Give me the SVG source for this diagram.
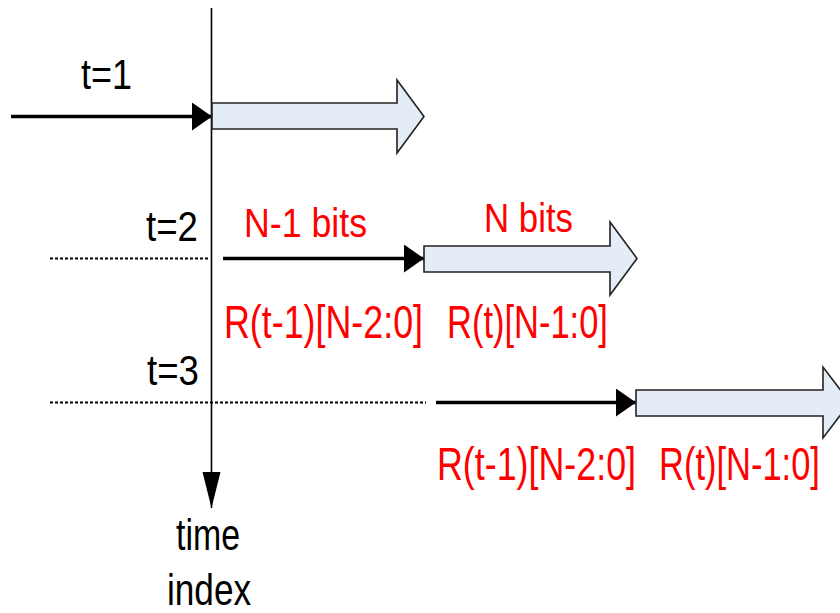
<svg xmlns="http://www.w3.org/2000/svg" width="840" height="613" viewBox="0 0 840 613">
  <style>
    .lbl { font-family: "Liberation Sans", Arial, sans-serif; fill: #000000; }
    .red { font-family: "Liberation Sans", Arial, sans-serif; fill: #ff0000; }
    .wire { stroke: #000000; stroke-width: 3.5; fill: none; }
    .dash { stroke: #000000; stroke-width: 2; stroke-dasharray: 3 2; fill: none; }
    .block { fill: #e4ecf7; stroke: #222222; stroke-width: 1.6; stroke-linejoin: miter; }
  </style>
  <defs>
    <marker id="head" markerUnits="userSpaceOnUse" markerWidth="22" markerHeight="28" refX="20" refY="14" orient="auto">
      <path d="M0,0 L20,14 L0,28 Z" fill="#000000"/>
    </marker>
    <marker id="axisHead" markerUnits="userSpaceOnUse" markerWidth="38" markerHeight="20" refX="36" refY="9" orient="auto">
      <path d="M0,0 L36,9 L0,18 Z" fill="#000000"/>
    </marker>
  </defs>

  <!-- time axis -->
  <g id="time-axis">
    <line x1="211.5" y1="8" x2="211.5" y2="508" stroke="#000" stroke-width="1.6" marker-end="url(#axisHead)"/>
    <text class="lbl" transform="translate(208,550) scale(0.77,1)" font-size="44" text-anchor="middle">time</text>
    <text class="lbl" transform="translate(209,605) scale(0.8,1)" font-size="44" text-anchor="middle">index</text>
  </g>

  <!-- connectors -->
  <g id="connectors">
    <line class="wire" x1="11" y1="116.5" x2="212" y2="116.5" marker-end="url(#head)"/>
    <line class="dash" x1="50" y1="258.5" x2="210" y2="258.5"/>
    <line class="wire" x1="223" y1="258.5" x2="424" y2="258.5" marker-end="url(#head)"/>
    <line class="dash" x1="50" y1="402.5" x2="426" y2="402.5"/>
    <line class="wire" x1="436" y1="402.5" x2="636" y2="402.5" marker-end="url(#head)"/>
  </g>

  <!-- t = 1 -->
  <g id="step1">
    <text class="lbl" transform="translate(81,89) scale(0.836,1)" font-size="43">t=1</text>
    <path class="block" d="M212,103 H397 V80 L424,116.5 L397,153 V129 H212 Z"/>
  </g>

  <!-- t = 2 -->
  <g id="step2">
    <text class="lbl" transform="translate(146,241) scale(0.873,1)" font-size="42">t=2</text>
    <text class="red" transform="translate(244,237) scale(0.871,1)" font-size="41">N-1 bits</text>
    <text class="red" transform="translate(484,232) scale(0.849,1)" font-size="41">N bits</text>
    <path class="block" d="M424,246 H610 V222 L637,258.5 L610,295 V272 H424 Z"/>
    <text class="red" transform="translate(224,338) scale(0.779,1)" font-size="46">R(t-1)[N-2:0]</text>
    <text class="red" transform="translate(447,338) scale(0.75,1)" font-size="46">R(t)[N-1:0]</text>
  </g>

  <!-- t = 3 -->
  <g id="step3">
    <text class="lbl" transform="translate(147,385) scale(0.873,1)" font-size="42">t=3</text>
    <path class="block" d="M636,390 H823 V367 L850,402.5 L823,438 V416 H636 Z"/>
    <text class="red" transform="translate(437,480) scale(0.779,1)" font-size="46">R(t-1)[N-2:0]</text>
    <text class="red" transform="translate(659,480) scale(0.75,1)" font-size="46">R(t)[N-1:0]</text>
  </g>
</svg>
